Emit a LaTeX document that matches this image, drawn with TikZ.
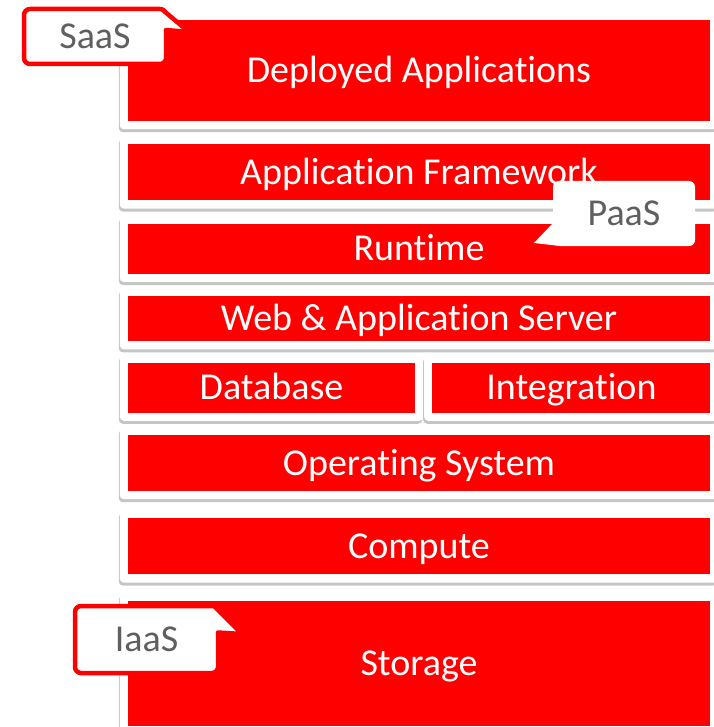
\documentclass[tikz,border=0pt]{standalone}
\usepackage{fontspec}
\setmainfont{Carlito}[Ligatures=NoCommon]
\usetikzlibrary{positioning,fit,backgrounds,shadows}
\definecolor{layerred}{RGB}{255,0,0}
\definecolor{tagtext}{RGB}{95,95,95}

\begin{document}
\begin{tikzpicture}[x=1pt,y=-1pt,node distance=22pt,font=\fontsize{38}{42}\selectfont]
		\tikzstyle{layer} = [rectangle, fill=layerred, text=white, minimum width=582pt, inner sep=0pt, text height=24pt, text depth=0pt]
		\tikzstyle{frame} = [rectangle, fill=white, rounded corners=4pt, inner sep=8pt, drop shadow={shadow xshift=-1pt, shadow yshift=-3pt, fill=black!45}]
		\tikzstyle{tag} = [rectangle, fill=white, text=tagtext, rounded corners=6pt, inner sep=0pt, outer sep=0pt, text height=24pt, text depth=0pt]
		\tikzstyle{tagline} = [draw=layerred, line width=4.5pt]
		\tikzstyle{pointer} = [draw=layerred, line width=4.5pt, line cap=round, line join=miter]
		\useasboundingbox (0,0) rectangle (713,727);
		\node (apps) [layer, minimum height=101pt] at (419,70.5) {Deployed Applications};
		\node (fw) [layer, minimum height=56pt, below=23pt of apps] {Application Framework};
		\node (rt) [layer, minimum height=50pt, below=23pt of fw] {Runtime};
		\node (web) [layer, minimum height=45pt, below=22pt of rt] {Web \& Application Server};
		\node (db) [layer, minimum width=287pt, minimum height=50pt, below right=21pt and 0pt of web.south west] {Database};
		\node (intg) [layer, minimum width=278pt, minimum height=50pt, right=17pt of db] {Integration};
		\coordinate (row) at (db.south -| web);
		\node (os) [layer, minimum height=56pt, below=22pt of row] {Operating System};
		\node (comp) [layer, minimum height=56pt, below=27pt of os] {Compute};
		\node (stor) [layer, minimum height=125pt, below=26pt of comp] {Storage};
		% white frames behind the bars
		\begin{scope}[on background layer]
			\foreach \n in {apps,fw,rt,web,db,intg,os,comp,stor}
				\node [frame, fit=(\n)] {};
		\end{scope}
		% service tags
		\node (saas) [tag, tagline, minimum width=142pt, minimum height=55pt] at (95,36.5) {SaaS};
		\node (paas) [tag, minimum width=142pt, minimum height=65pt] at (624,213.5) {PaaS};
		\node (iaas) [tag, tagline, minimum width=143pt, minimum height=67pt] at (146.5,639.5) {IaaS};
		\coordinate (saastip) at (189,32);
		\coordinate (paastip) at (534,243);
		\coordinate (iaastip) at (242,634);
		% pointers
		\coordinate (sa) at ([xshift=-2pt,yshift=-2pt]saas.north east);
		\coordinate (sb) at ([yshift=6.5pt]saas.east);
		\fill[white] (sa) -- (saastip) -- (sb) -- ([xshift=-4pt]sb) -- ([xshift=-4pt,yshift=-2pt]sa) -- cycle;
		\draw[pointer] (sa) -- (saastip) -- (sb);
		\coordinate (ia) at ([xshift=-2pt,yshift=-2pt]iaas.north east);
		\coordinate (ib) at ([yshift=7pt]iaas.east);
		\fill[white] (ia) -- (iaastip) -- (ib) -- ([xshift=-4pt]ib) -- ([xshift=-4pt,yshift=-2pt]ia) -- cycle;
		\draw[pointer] (ia) -- (iaastip) -- (ib);
		\coordinate (pa) at ([yshift=-9.5pt]paas.west);
		\coordinate (pb) at ([xshift=7pt]paas.south west);
		\fill[white] (pa) -- (paastip) -- (pb) -- ([xshift=6pt,yshift=2pt]pb) -- cycle;
	\end{tikzpicture}
\end{document}
